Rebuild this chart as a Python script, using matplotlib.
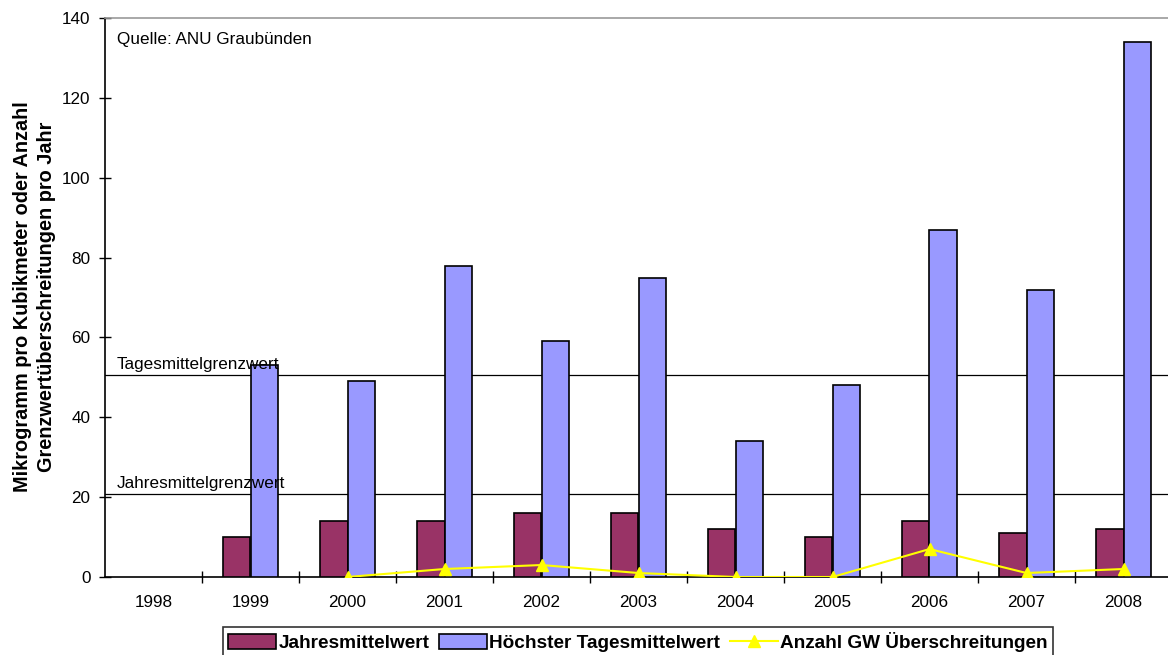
import numpy as np
import matplotlib
matplotlib.use('Agg')
import matplotlib.pyplot as plt

plt.rcParams['font.family'] = ['Liberation Sans', 'DejaVu Sans']

# PM10 Messwerte Graubünden
years = ['1998', '1999', '2000', '2001', '2002', '2003', '2004', '2005', '2006', '2007', '2008']
jahresmittel = [np.nan, 10, 14, 14, 16, 16, 12, 10, 14, 11, 12]
tagesmittel_max = [np.nan, 53, 49, 78, 59, 75, 34, 48, 87, 72, 134]
anzahl_gw = [np.nan, np.nan, 0, 2, 3, 1, 0, 0, 7, 1, 2]

tages_grenz = 50.5
jahres_grenz = 20.8

fig = plt.figure(figsize=(11.68, 6.55), dpi=100)
ax = fig.add_axes([105/1168, 1 - 577/655, 1067/1168, 559/655])

x = np.arange(len(years))
w = 1 / 3.5
b1 = ax.bar(x - w/2, jahresmittel, w, color='#993366', edgecolor='black', linewidth=1.2,
            label='Jahresmittelwert', zorder=3)
b2 = ax.bar(x + w/2, tagesmittel_max, w, color='#9999ff', edgecolor='black', linewidth=1.2,
            label='Höchster Tagesmittelwert', zorder=3)
l1, = ax.plot(x, anzahl_gw, color='#ffff00', marker='^', markersize=8, linewidth=1.5,
              label='Anzahl GW Überschreitungen', zorder=4)

ax.axhline(tages_grenz, color='black', linewidth=0.9, zorder=2)
ax.axhline(jahres_grenz, color='black', linewidth=0.9, zorder=2)
ax.text(-0.38, tages_grenz + 0.8, 'Tagesmittelgrenzwert', fontsize=12.3, va='bottom')
ax.text(-0.38, jahres_grenz + 0.8, 'Jahresmittelgrenzwert', fontsize=12.3, va='bottom')
ax.text(-0.38, 134.5, 'Quelle: ANU Graubünden', fontsize=12.3, va='center')

ax.set_xlim(-0.5, len(years) - 0.5)
ax.set_ylim(0, 140)
ax.set_yticks(range(0, 141, 20))
ax.set_xticks(x)
ax.set_xticklabels(years)
ax.set_xticks(np.arange(0.5, len(years) - 0.5), minor=True)
ax.tick_params(axis='x', which='major', length=0, labelsize=12.3, pad=13)
ax.tick_params(axis='x', which='minor', length=9, direction='inout', width=1)
ax.tick_params(axis='y', length=9, direction='inout', width=1, labelsize=12.3, pad=6)

ax.spines['right'].set_visible(False)
ax.spines['top'].set_color('#999999')
ax.spines['top'].set_linewidth(1.2)
ax.spines['left'].set_linewidth(1.2)
ax.spines['bottom'].set_linewidth(1.2)

fig.text(0.0295, 1 - 297/655, 'Mikrogramm pro Kubikmeter oder Anzahl\nGrenzwertüberschreitungen pro Jahr',
         rotation=90, ha='center', va='center', fontsize=14.3, fontweight='bold',
         linespacing=1.3, multialignment='center')

leg = fig.legend(handles=[b1, b2, l1], loc='center', bbox_to_anchor=(638/1168, 1 - 642/655), ncol=3,
                 prop={'weight': 'bold', 'size': 13.7}, frameon=True, fancybox=False,
                 edgecolor='black', handlelength=2.5, handleheight=0.8, handletextpad=0.15,
                 columnspacing=0.5, borderpad=0.25, borderaxespad=0)
leg.get_frame().set_linewidth(1.2)

fig.savefig('out.png', dpi=100)
